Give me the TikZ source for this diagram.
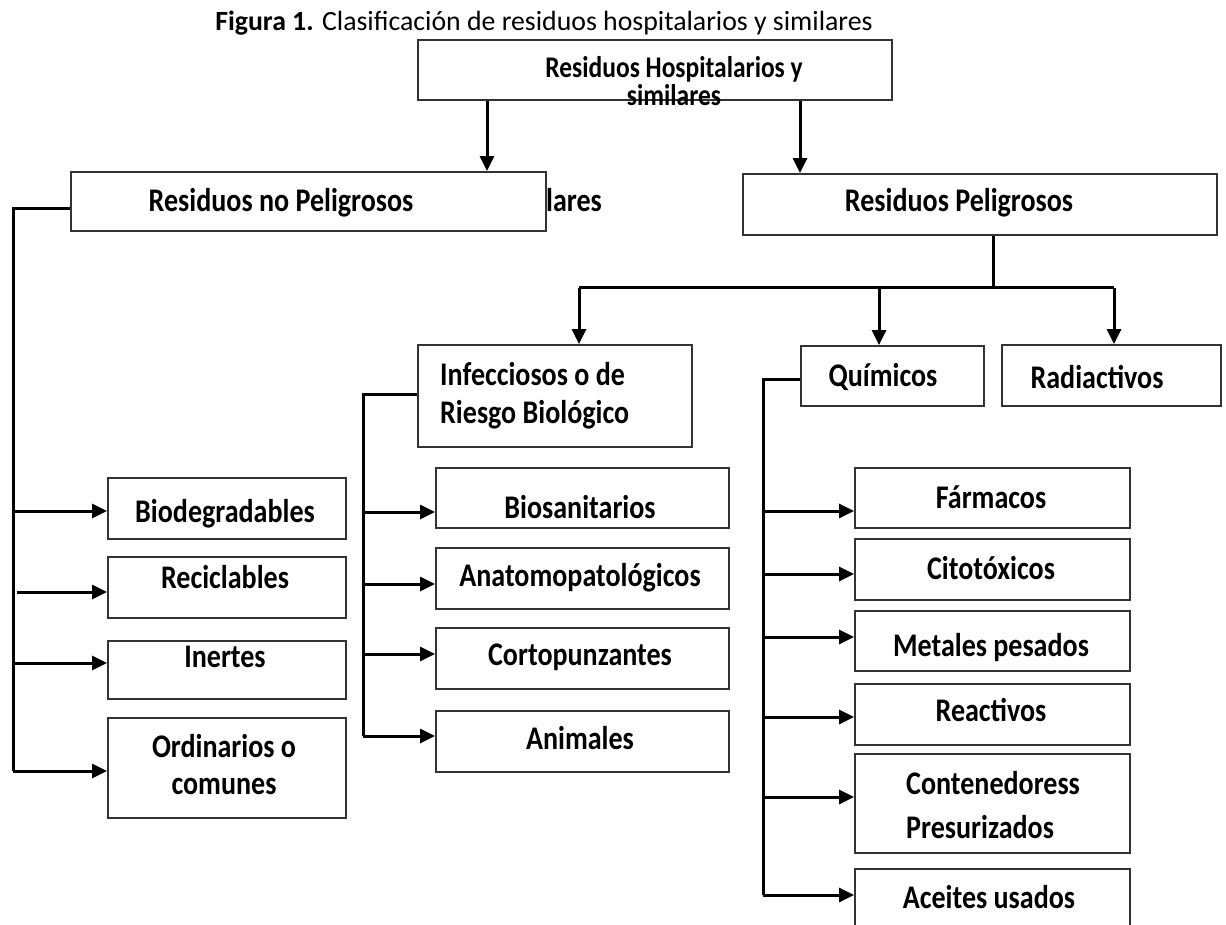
\documentclass[tikz,border=0pt]{standalone}
\usepackage{fontspec}
\setmainfont{Carlito}
\newfontfamily\lblfont[FakeStretch=0.85]{Carlito}
\usetikzlibrary{arrows.meta}
\definecolor{boxgray}{HTML}{333333}
\begin{document}
\begin{tikzpicture}[x=1pt,y=-1pt,
  box/.style={draw=boxgray,line width=1.8pt,inner sep=0pt},
  lbl/.style={font=\lblfont\bfseries\fontsize{33}{38}\selectfont,inner sep=0pt,text=black},
  link/.style={line width=3pt,black},
  arr/.style={link,-{Triangle[length=15pt,width=14pt]}}]
\useasboundingbox (0,0) rectangle (1226,925);
\clip (0,0) rectangle (1226,925);
\fill[white] (0,0) rectangle (1226,925);

% caption
\node[inner sep=0pt,font=\fontsize{27.8}{30}\selectfont] (title) at (544,23)
  {\textbf{Figura 1.} Clasificación de residuos hospitalarios y similares};

% boxes
\node[box,minimum width=474,minimum height=60]  (top) at (655,70) {};
\node[box,minimum width=475,minimum height=59]  (np)  at (308.5,201.5) {};
\node[box,minimum width=474,minimum height=61]  (pel) at (980,204.5) {};
\node[box,minimum width=274,minimum height=102] (inf) at (555,396) {};
\node[box,minimum width=183,minimum height=60]  (qui) at (892.5,376) {};
\node[box,minimum width=219,minimum height=61]  (rad) at (1111.5,375.5) {};
\node[box,minimum width=238,minimum height=61]  (bio) at (227,508.5) {};
\node[box,minimum width=238,minimum height=61]  (rec) at (227,587.5) {};
\node[box,minimum width=238,minimum height=58]  (ine) at (227,670) {};
\node[box,minimum width=238,minimum height=100] (ord) at (227,768) {};
\node[box,minimum width=293,minimum height=60]  (bsa) at (582.5,498) {};
\node[box,minimum width=293,minimum height=61]  (ana) at (582.5,578.5) {};
\node[box,minimum width=293,minimum height=61]  (cor) at (582.5,658.5) {};
\node[box,minimum width=293,minimum height=61]  (ani) at (582.5,741.5) {};
\node[box,minimum width=275,minimum height=60]  (far) at (992.5,498) {};
\node[box,minimum width=275,minimum height=61]  (cit) at (992.5,569.5) {};
\node[box,minimum width=275,minimum height=60]  (met) at (992.5,641) {};
\node[box,minimum width=275,minimum height=61]  (rea) at (992.5,714.5) {};
\node[box,minimum width=275,minimum height=99]  (con) at (992.5,803.5) {};
\node[box,minimum width=275,minimum height=71]  (ace) at (992.5,904.5) {};

% labels
\node[lbl,align=center,font=\lblfont\bfseries\fontsize{30}{28}\selectfont] (t-top) at (674,81)
  {Residuos Hospitalarios y\\similares};
\node[lbl] (t-np)  at (281,203) {Residuos no Peligrosos};
\node[lbl] (t-lares) at (574,200) {lares};
\node[lbl] (t-pel) at (959,203) {Residuos Peligrosos};
\node[lbl,anchor=west,align=left,font=\lblfont\bfseries\fontsize{33}{38}\selectfont] (t-inf) at (440,396)
  {Infecciosos o de\\Riesgo Biológico};
\node[lbl] (t-qui) at (883,377) {Químicos};
\node[lbl] (t-rad) at (1097,377) {Radiactivos};
\node[lbl] (t-bio) at (225,514) {Biodegradables};
\node[lbl] (t-rec) at (225,577) {Reciclables};
\node[lbl] (t-ine) at (225,657) {Inertes};
\node[lbl,align=center,font=\lblfont\bfseries\fontsize{33}{37}\selectfont] (t-ord) at (224,765)
  {Ordinarios o\\comunes};
\node[lbl] (t-bsa) at (580,507) {Biosanitarios};
\node[lbl] (t-ana) at (580,578) {Anatomopatológicos};
\node[lbl] (t-cor) at (580,657) {Cortopunzantes};
\node[lbl] (t-ani) at (580,738) {Animales};
\node[lbl] (t-far) at (991,497) {Fármacos};
\node[lbl] (t-cit) at (991,568) {Citotóxicos};
\node[lbl] (t-met) at (991,648) {Metales pesados};
\node[lbl] (t-rea) at (991,710) {Reactivos};
\node[lbl,anchor=west,align=left,font=\lblfont\bfseries\fontsize{33}{44}\selectfont] (t-con) at (906,805)
  {Contenedoress\\Presurizados};
\node[lbl] (t-ace) at (989,897) {Aceites usados};

% trunk and junction points
\coordinate (trA) at (13,209);
\coordinate (trB) at (363,394);
\coordinate (trC) at (763,379);
\coordinate (bar) at (993,288);

% first level
\draw[arr] (top.south -| 487,0) -- (np.north -| 487,0);
\draw[arr] (top.south -| 800,0) -- (pel.north -| 800,0);

% hazardous branch
\draw[link] (pel.south -| bar) -- (bar);
\draw[link] (bar -| 579,0) -- (bar -| 1114,0);
\draw[arr] (bar -| 579,0) -- (inf.north -| 579,0);
\draw[arr] (bar -| 879,0) -- (qui.north -| 879,0);
\draw[arr] (bar -| 1114,0) -- (rad.north -| 1114,0);

% non-hazardous children
\draw[link] (np.west |- trA) -- (trA) -- (trA |- 0,771);
\draw[arr] (trA |- 0,511) -- (bio.west |- 0,511);
\draw[arr] ([xshift=3.5pt]trA |- 0,592) -- (rec.west |- 0,592);
\draw[arr] (trA |- 0,663) -- (ine.west |- 0,663);
\draw[arr] (trA |- 0,771) -- (ord.west |- 0,771);

% infectious children
\draw[link] (inf.west |- trB) -- (trB) -- (trB |- 0,736);
\draw[arr] (trB |- 0,512) -- (bsa.west |- 0,512);
\draw[arr] (trB |- 0,584) -- (ana.west |- 0,584);
\draw[arr] (trB |- 0,654) -- (cor.west |- 0,654);
\draw[arr] (trB |- 0,736) -- (ani.west |- 0,736);

% chemical children
\draw[link] (qui.west |- trC) -- (trC) -- (trC |- 0,895);
\draw[arr] (trC |- 0,511) -- (far.west |- 0,511);
\draw[arr] (trC |- 0,574) -- (cit.west |- 0,574);
\draw[arr] (trC |- 0,637) -- (met.west |- 0,637);
\draw[arr] (trC |- 0,717) -- (rea.west |- 0,717);
\draw[arr] (trC |- 0,797) -- (con.west |- 0,797);
\draw[arr] (trC |- 0,895) -- (ace.west |- 0,895);
\end{tikzpicture}
\end{document}
